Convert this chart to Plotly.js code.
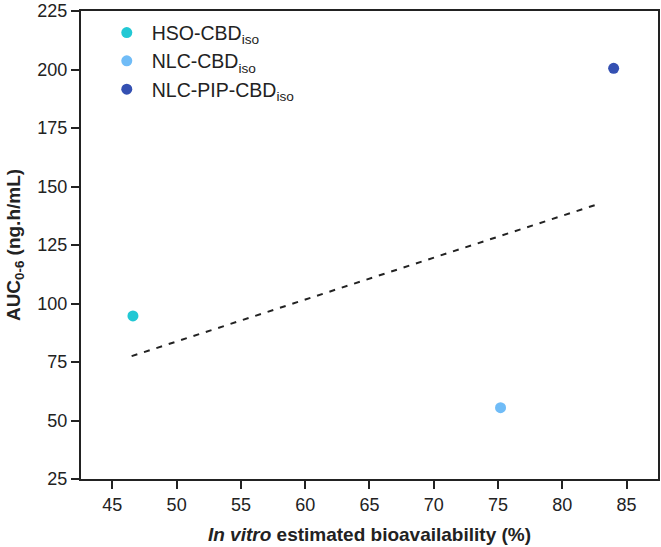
<!DOCTYPE html>
<html>
<head>
<meta charset="utf-8">
<script src="https://cdn.plot.ly/plotly-3.0.1.min.js"></script>
<style>
  html, body { margin: 0; padding: 0; background: #fff; }
  #chart { width: 661px; height: 547px; }
</style>
</head>
<body>
<div id="chart"></div>
<script>
// Formulations and their measured values
const formulations = ['HSO-CBD<sub>iso</sub>', 'NLC-CBD<sub>iso</sub>', 'NLC-PIP-CBD<sub>iso</sub>'];
const bioavailability = [46.6, 75.2, 84.0];   // in vitro estimated bioavailability (%)
const auc = [94.7, 55.5, 200.5];              // AUC 0-6 (ng.h/mL)
const colors = ['#22c8d4', '#70bcf7', '#3450b2'];

// Trend line end points
const trendX = [46.5, 82.8];
const trendY = [77.5, 142.5];

const xTicks = [45, 50, 55, 60, 65, 70, 75, 80, 85];
const yTicks = [25, 50, 75, 100, 125, 150, 175, 200, 225];

const font = 'Liberation Sans, Arial, sans-serif';

const traces = formulations.map((name, i) => ({
  type: 'scatter',
  mode: 'markers',
  name: name,
  x: [bioavailability[i]],
  y: [auc[i]],
  marker: { color: colors[i], size: 11 },
  hoverinfo: 'x+y'
}));

traces.push({
  type: 'scatter',
  mode: 'lines',
  x: trendX,
  y: trendY,
  line: { color: '#222', width: 2, dash: '6px,7px' },
  showlegend: false,
  hoverinfo: 'skip'
});

const axisCommon = {
  showgrid: false,
  zeroline: false,
  showline: true,
  linecolor: '#222',
  linewidth: 2,
  mirror: true,
  ticks: 'outside',
  ticklen: 8,
  tickwidth: 2,
  tickcolor: '#222',
  tickfont: { family: font, size: 18, color: '#222' }
};

const layout = {
  width: 661,
  height: 547,
  margin: { l: 81, r: 3, t: 11, b: 68 },
  paper_bgcolor: '#fff',
  plot_bgcolor: '#fff',
  font: { family: font, color: '#222' },
  showlegend: true,
  legend: {
    x: 0.036, y: 0.995, xanchor: 'left', yanchor: 'top',
    bgcolor: 'rgba(0,0,0,0)',
    font: { family: font, size: 19.5, color: '#222' },
    itemwidth: 40,
    tracegroupgap: 0
  },
  xaxis: Object.assign({}, axisCommon, {
    range: [42.56, 87.45],
    tickvals: xTicks,
    title: {
      text: '<b><i>In vitro</i> estimated bioavailability (%)</b>',
      font: { family: font, size: 19, color: '#222' },
      standoff: 14
    }
  }),
  yaxis: Object.assign({}, axisCommon, {
    range: [25, 225],
    tickvals: yTicks,
    title: {
      text: '<b>AUC<sub>0-6</sub> (ng.h/mL)</b>',
      font: { family: font, size: 19, color: '#222' },
      standoff: 12
    }
  })
};

Plotly.newPlot('chart', traces, layout, { displayModeBar: false, staticPlot: true });
</script>
</body>
</html>
